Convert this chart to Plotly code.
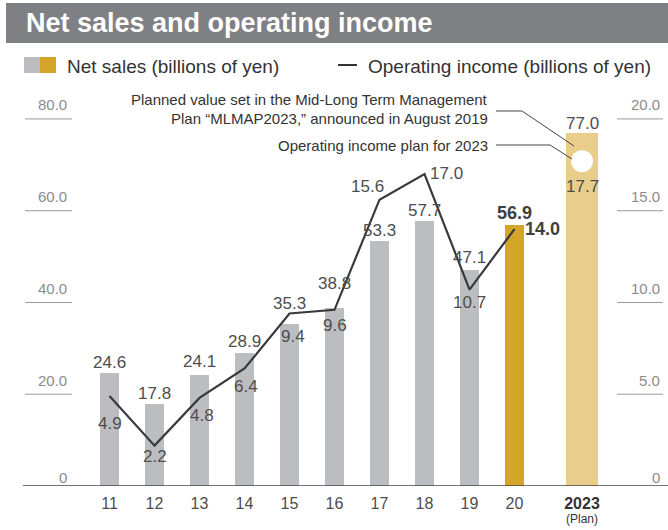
import plotly.graph_objects as go

# ---------------- data ----------------
years = ["11", "12", "13", "14", "15", "16", "17", "18", "19", "20", "2023"]
net_sales = [24.6, 17.8, 24.1, 28.9, 35.3, 38.8, 53.3, 57.7, 47.1, 56.9, 77.0]
op_income = [4.9, 2.2, 4.8, 6.4, 9.4, 9.6, 15.6, 17.0, 10.7, 14.0]
op_income_plan = 17.7
sales_ticks = [0, 20, 40, 60, 80]
sales_tick_text = ["0", "20.0", "40.0", "60.0", "80.0"]
income_ticks = [0, 5, 10, 15, 20]
income_tick_text = ["0", "5.0", "10.0", "15.0", "20.0"]
x_tick_text = ["11", "12", "13", "14", "15", "16", "17", "18", "19", "20",
               "<b><span style='color:#333333'>2023</span></b>"]
plan_note = "(Plan)"

# ---------------- layout helpers ----------------
W, H = 668, 530
MT, MB, ML, MR = 96, 44, 0, 0
PW, PH = W - ML - MR, H - MT - MB
SPACING = 45.0
X0PX = 109.5
X_RANGE = [-X0PX / SPACING, (PW - X0PX) / SPACING]
Y_RANGE = [0, 85.0]
Y2_RANGE = [0, 85.0 / 4]

# actual years sit one slot apart; the plan column sits 1.5 slots after the last one
xpos = [float(i) for i in range(len(years) - 1)]
xpos.append(xpos[-1] + 1.5)


def px_x(px):
    return (px - ML) / PW


def px_y(py):
    return (H - MB - py) / PH


FONT = "Liberation Sans, Arial, Helvetica, sans-serif"
NUM_COLOR = "#4d4d4d"
TICK_COLOR = "#8c8c8c"

bar_colors = ["#bcbdc1"] * 9 + ["#d3a528", "#e9cd8b"]
bar_widths = [0.43] * 10 + [0.73]

fig = go.Figure()
fig.add_trace(go.Bar(
    x=xpos, y=net_sales, width=bar_widths,
    marker=dict(color=bar_colors, line=dict(width=0)),
    hoverinfo="skip", showlegend=False,
))
fig.add_trace(go.Scatter(
    x=xpos[:len(op_income)], y=op_income, yaxis="y2", mode="lines",
    line=dict(color="#3a3a3a", width=2.2),
    hoverinfo="skip", showlegend=False,
))
fig.add_trace(go.Scatter(
    x=[xpos[-1]], y=[op_income_plan], yaxis="y2", mode="markers",
    marker=dict(size=22, color="white", line=dict(width=0)),
    hoverinfo="skip", showlegend=False,
))

annotations = []
shapes = []

# net sales labels
sales_up = [11, 11, 14, 12, 21, 24, 11, 11, 12, 12, 9]
for i, v in enumerate(net_sales):
    bold = (i == 9)
    annotations.append(dict(
        x=xpos[i], y=v, xref="x", yref="y",
        text=("<b>%.1f</b>" % v) if bold else "%.1f" % v,
        showarrow=False, yanchor="middle", xanchor="center",
        yshift=sales_up[i],
        font=dict(family=FONT, size=18 if bold else 17,
                  color="#3f3f3f" if bold else NUM_COLOR),
    ))

# operating income labels
op_off = [(0, 27), (0, 11), (2, 18), (1, 18), (3, 23), (0, 16),
          (-12, -13), (22, -1), (0, 13), (28, 0)]
for i, v in enumerate(op_income):
    dx, dy = op_off[i]
    bold = (i == 9)
    annotations.append(dict(
        x=xpos[i], y=v, xref="x", yref="y2",
        text=("<b>%.1f</b>" % v) if bold else "%.1f" % v,
        showarrow=False, yanchor="middle", xanchor="center",
        xshift=dx, yshift=-dy,
        font=dict(family=FONT, size=18 if bold else 17,
                  color="#3f3f3f" if bold else NUM_COLOR),
    ))
annotations.append(dict(
    x=xpos[-1], y=op_income_plan, xref="x", yref="y2",
    text="%.1f" % op_income_plan, showarrow=False,
    yanchor="middle", xanchor="center", yshift=-25,
    font=dict(family=FONT, size=17, color=NUM_COLOR),
))

# "(Plan)" under the 2023 tick label
annotations.append(dict(
    x=xpos[-1], y=px_y(519), xref="x", yref="paper", text=plan_note,
    showarrow=False, xanchor="center", yanchor="middle",
    font=dict(family=FONT, size=12, color="#333333"),
))

# axis tick labels and short underline segments
for v, t in zip(sales_ticks, sales_tick_text):
    annotations.append(dict(
        x=px_x(69), y=v, xref="paper", yref="y", text=t, showarrow=False,
        xanchor="right", yanchor="middle", yshift=9 if v == 0 else 14,
        font=dict(family=FONT, size=15, color=TICK_COLOR),
    ))
    if v != 0:
        shapes.append(dict(type="line", xref="paper", yref="y",
                           x0=px_x(25), x1=px_x(72), y0=v, y1=v,
                           line=dict(color="#9a9a9a", width=1)))
for v, t in zip(income_ticks, income_tick_text):
    annotations.append(dict(
        x=px_x(662), y=v, xref="paper", yref="y2", text=t, showarrow=False,
        xanchor="right", yanchor="middle", yshift=9 if v == 0 else 14,
        font=dict(family=FONT, size=15, color=TICK_COLOR),
    ))
    if v != 0:
        shapes.append(dict(type="line", xref="paper", yref="y2",
                           x0=px_x(617), x1=px_x(663), y0=v, y1=v,
                           line=dict(color="#9a9a9a", width=1)))

# baseline
shapes.append(dict(type="line", xref="paper", yref="y",
                   x0=px_x(23), x1=px_x(668), y0=0, y1=0,
                   line=dict(color="#444444", width=1.6)))

# title band
shapes.append(dict(type="rect", xref="paper", yref="paper",
                   x0=px_x(6), x1=px_x(668), y0=px_y(43), y1=px_y(3),
                   fillcolor="#7f8084", line=dict(width=0), layer="below"))
annotations.append(dict(
    x=px_x(24), y=px_y(23), xref="paper", yref="paper",
    text="<b>Net sales and operating income</b>", showarrow=False,
    xanchor="left", yanchor="middle",
    font=dict(family=FONT, size=27, color="white"),
))

# legend
shapes.append(dict(type="rect", xref="paper", yref="paper",
                   x0=px_x(24), x1=px_x(40), y0=px_y(73), y1=px_y(57),
                   fillcolor="#bcbdc1", line=dict(width=0)))
shapes.append(dict(type="rect", xref="paper", yref="paper",
                   x0=px_x(40), x1=px_x(56), y0=px_y(73), y1=px_y(57),
                   fillcolor="#d3a528", line=dict(width=0)))
annotations.append(dict(
    x=px_x(65), y=px_y(66), xref="paper", yref="paper",
    text="Net sales (billions of yen)", showarrow=False,
    xanchor="left", yanchor="middle",
    font=dict(family=FONT, size=19, color="#333333"),
))
shapes.append(dict(type="line", xref="paper", yref="paper",
                   x0=px_x(338), x1=px_x(357), y0=px_y(65), y1=px_y(65),
                   line=dict(color="#333333", width=2)))
annotations.append(dict(
    x=px_x(366), y=px_y(66), xref="paper", yref="paper",
    text="Operating income (billions of yen)", showarrow=False,
    xanchor="left", yanchor="middle",
    font=dict(family=FONT, size=19, color="#333333"),
))

# plan notes
notes = [("Planned value set in the Mid-Long Term Management", 100),
         ("Plan \u201cMLMAP2023,\u201d announced in August 2019", 118),
         ("Operating income plan for 2023", 145)]
for t, py in notes:
    annotations.append(dict(
        x=px_x(490), y=px_y(py), xref="paper", yref="paper", text=t,
        showarrow=False, xanchor="right", yanchor="middle",
        font=dict(family=FONT, size=15, color="#333333"),
    ))


def path_px(points):
    s = ""
    for k, (a, b) in enumerate(points):
        s += ("M " if k == 0 else " L ") + "%.5f,%.5f" % (px_x(a), px_y(b))
    return s


shapes.append(dict(type="path", xref="paper", yref="paper",
                   path=path_px([(496, 111), (522, 111), (574, 146)]),
                   line=dict(color="#444444", width=1)))
shapes.append(dict(type="path", xref="paper", yref="paper",
                   path=path_px([(496, 145), (550, 145), (572, 159)]),
                   line=dict(color="#444444", width=1)))

fig.update_layout(
    width=W, height=H,
    margin=dict(l=ML, r=MR, t=MT, b=MB, pad=0, autoexpand=False),
    paper_bgcolor="white", plot_bgcolor="white",
    bargap=0, showlegend=False,
    xaxis=dict(range=X_RANGE, showgrid=False, zeroline=False, showline=False,
               tickmode="array", tickvals=xpos, ticktext=x_tick_text,
               ticks="", ticklabelstandoff=6, tickangle=0, automargin=False,
               tickfont=dict(family=FONT, size=16, color="#4d4d4d"),
               fixedrange=True),
    yaxis=dict(range=Y_RANGE, visible=False, fixedrange=True),
    yaxis2=dict(range=Y2_RANGE, overlaying="y", side="right", visible=False,
                fixedrange=True),
    annotations=annotations,
    shapes=shapes,
)

fig.write_html(
    "out.html",
    config={"displayModeBar": False, "staticPlot": True},
    post_script="document.body.style.margin='0';document.body.style.padding='0';",
)
